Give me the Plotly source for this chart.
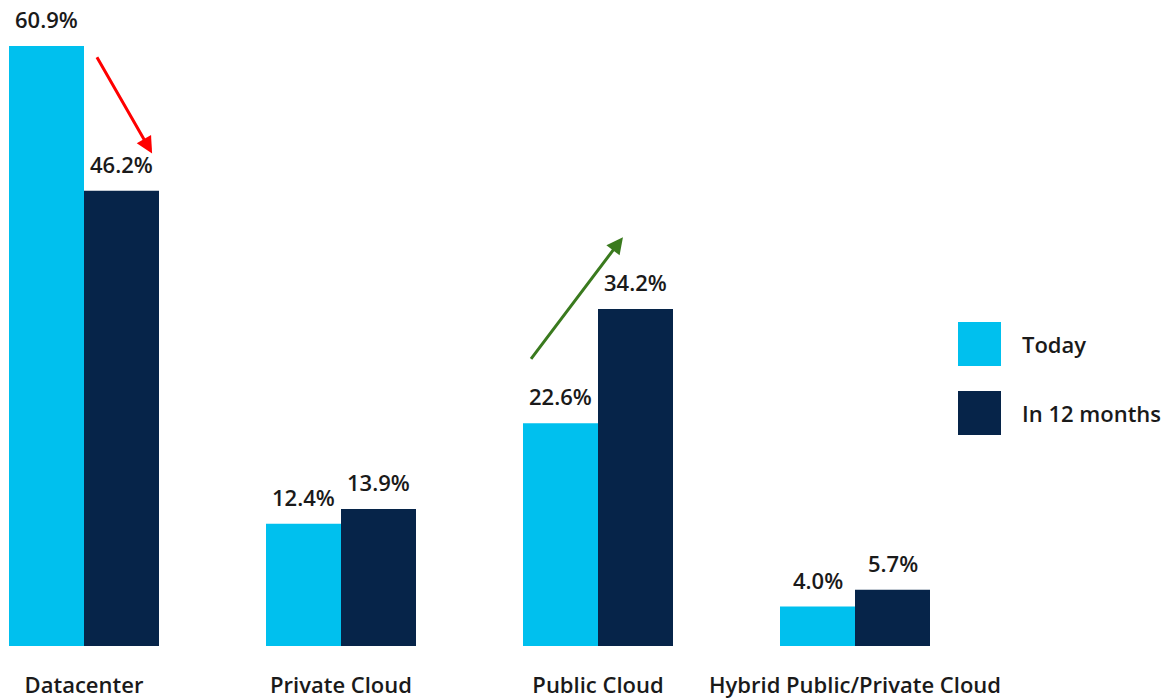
import plotly.graph_objects as go

categories = ["Datacenter", "Private Cloud", "Public Cloud", "Hybrid Public/Private Cloud"]
today = [60.9, 12.4, 22.6, 4.0]
in_12_months = [46.2, 13.9, 34.2, 5.7]
series_names = ["Today", "In 12 months"]
colors = ["#00C0EE", "#062449"]

FONT = "Open Sans"
TXT = "#1a1a1a"
xs = list(range(len(categories)))
W, H = 1169, 698
STEP = 257.0
half = 75 / STEP / 2

fig = go.Figure()
for k, (name, vals, col) in enumerate(zip(series_names, [today, in_12_months], colors)):
    fig.add_trace(go.Bar(
        x=xs, y=vals, name=name,
        marker=dict(color=col, line=dict(width=0)),
        showlegend=False,
    ))
    off = -half if k == 0 else half
    for i, v in zip(xs, vals):
        fig.add_annotation(x=i + off, y=v, xref="x", yref="y", text=f"{v:.1f}%",
                           showarrow=False, yanchor="middle", yshift=27,
                           font=dict(family=FONT, size=22, color=TXT, weight=600))

# arrows
fig.add_annotation(x=0.265, y=50.0, ax=0.047, ay=59.9, xref="x", yref="y", axref="x", ayref="y",
                   showarrow=True, arrowhead=2, arrowsize=1.1, arrowwidth=3, arrowcolor="#FF0000", text="")
fig.add_annotation(x=2.097, y=41.5, ax=1.735, ay=29.0, xref="x", yref="y", axref="x", ayref="y",
                   showarrow=True, arrowhead=2, arrowsize=1.1, arrowwidth=3, arrowcolor="#3A7A1E", text="")

# custom legend
PH = H - 52
legend_y = [344, 413]
for name, col, yc in zip(series_names, colors, legend_y):
    fig.add_shape(type="rect", xref="paper", yref="paper",
                  x0=958 / W, x1=1001 / W,
                  y0=(PH - (yc + 22)) / PH, y1=(PH - (yc - 22)) / PH,
                  fillcolor=col, line=dict(width=0))
    fig.add_annotation(x=1020 / W, y=(PH - yc) / PH, xref="paper", yref="paper",
                       text=name, showarrow=False, xanchor="left", yanchor="middle",
                       font=dict(family=FONT, size=22, color=TXT, weight=600))

fig.update_layout(
    width=W, height=H,
    margin=dict(l=0, r=0, t=0, b=52, autoexpand=False),
    plot_bgcolor="white", paper_bgcolor="white",
    barmode="group", bargap=1 - 2 * 75 / STEP, bargroupgap=0,
    xaxis=dict(range=[-84 / STEP, (W - 84) / STEP], tickmode="array", tickvals=xs, ticktext=categories,
               showgrid=False, zeroline=False, showline=False, ticks="", automargin=False,
               tickfont=dict(family=FONT, size=22, color=TXT, weight=600), ticklabelstandoff=24),
    yaxis=dict(range=[0, 646 / 9.852], visible=False, showgrid=False, zeroline=False),
    showlegend=False,
)

fig.write_html("out.html", config={"displayModeBar": False},
               post_script="document.body.style.margin='0';document.body.style.overflow='hidden';")
